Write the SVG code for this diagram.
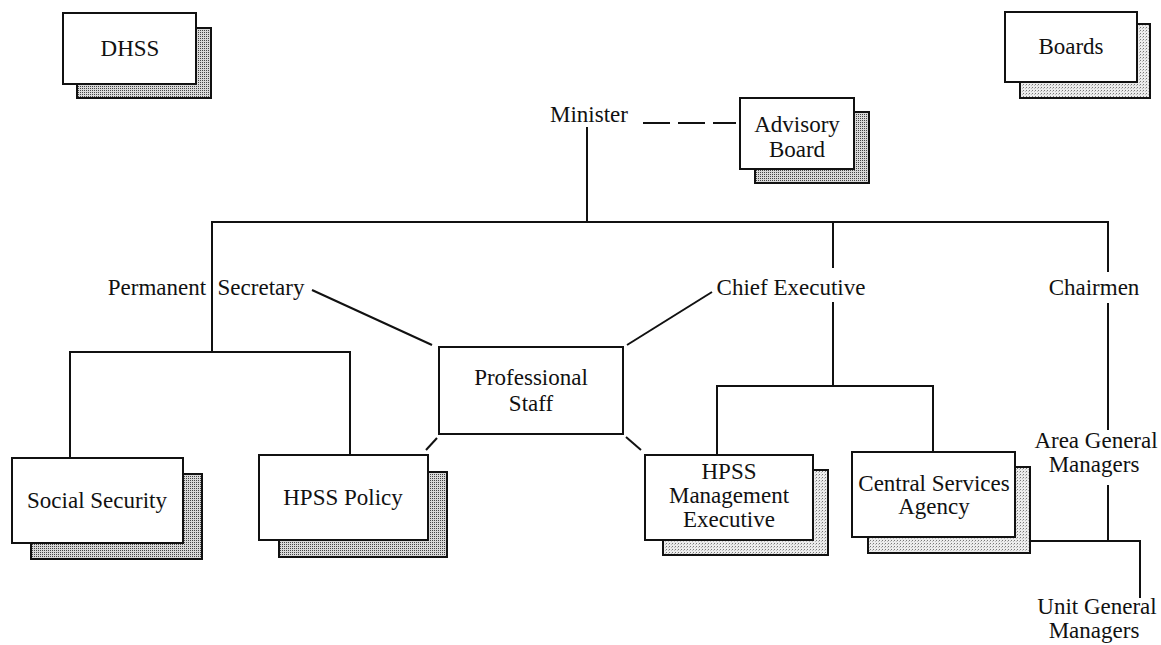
<svg xmlns="http://www.w3.org/2000/svg" width="1161" height="645" viewBox="0 0 1161 645">
  <style>
    text { font-family: "Liberation Serif", "Times New Roman", serif; font-size: 23px; fill: #111; text-anchor: middle; }
    .box { fill: #fff; stroke: #111; stroke-width: 2; }
    .shadow { fill: url(#dots); stroke: #111; stroke-width: 2; }
    .shadow-light { fill: url(#dots-light); stroke: #111; stroke-width: 2; }
    .line { fill: none; stroke: #111; stroke-width: 2; }
    .dash { fill: none; stroke: #111; stroke-width: 2; stroke-dasharray: 27 8; }
  </style>
  <defs>
    <!-- stippled fill for the stacked "shadow" sheets -->
    <pattern id="dots" width="2" height="2" patternUnits="userSpaceOnUse">
      <rect width="2" height="2" fill="#d8d8d8"/>
      <rect width="1" height="1" fill="#444"/>
    </pattern>
    <pattern id="dots-light" width="3" height="3" patternUnits="userSpaceOnUse">
      <rect width="3" height="3" fill="#ececec"/>
      <rect width="1" height="1" fill="#777"/>
      <rect x="2" y="1" width="1" height="1" fill="#bbb"/>
    </pattern>
  </defs>
  <rect width="1161" height="645" fill="#fff"/>

  <!-- connectors -->
  <g id="connectors">
    <path class="dash" d="M643 123 H736"/>
    <path class="line" d="M587 127 V222"/>
    <path class="line" d="M212 352 V222 H1108 V272"/>
    <path class="line" d="M1108 303 V430"/>
    <path class="line" d="M1108 485 V541"/>
    <path class="line" d="M1030 541 H1140 V598"/>
    <path class="line" d="M70 458 V352 H350 V455"/>
    <path class="line" d="M833 222 V268"/>
    <path class="line" d="M833 302 V386"/>
    <path class="line" d="M717 455 V386 H933 V452"/>
    <path class="line" d="M312 290 L432 345"/>
    <path class="line" d="M627 345 L712 292"/>
    <path class="line" d="M437 438 L426 450"/>
    <path class="line" d="M626 437 L641 450"/>
  </g>

  <!-- labels on the connectors -->
  <g id="labels">
    <text x="589" y="122">Minister</text>
    <text x="157" y="295">Permanent</text>
    <text x="261" y="295">Secretary</text>
    <text x="791" y="295">Chief Executive</text>
    <text x="1094" y="295">Chairmen</text>
    <text x="1096" y="448">Area General</text>
    <text x="1094" y="472">Managers</text>
    <text x="1097" y="614">Unit General</text>
    <text x="1094" y="638">Managers</text>
  </g>

  <g id="dhss">
    <rect class="shadow" x="77" y="28" width="134" height="70"/>
    <rect class="box" x="63" y="13" width="133" height="71"/>
    <text x="130" y="56">DHSS</text>
  </g>

  <g id="boards">
    <rect class="shadow-light" x="1020" y="24" width="130" height="74"/>
    <rect class="box" x="1005" y="12" width="132" height="70"/>
    <text x="1071" y="54">Boards</text>
  </g>

  <g id="advisory-board">
    <rect class="shadow" x="755" y="112" width="114" height="71"/>
    <rect class="box" x="740" y="98" width="114" height="71"/>
    <text x="797" y="132">Advisory</text>
    <text x="797" y="157">Board</text>
  </g>

  <g id="professional-staff">
    <rect class="box" x="439" y="347" width="184" height="87"/>
    <text x="531" y="385">Professional</text>
    <text x="531" y="411">Staff</text>
  </g>

  <g id="social-security">
    <rect class="shadow" x="31" y="474" width="171" height="85"/>
    <rect class="box" x="12" y="458" width="171" height="85"/>
    <text x="97" y="508">Social Security</text>
  </g>

  <g id="hpss-policy">
    <rect class="shadow" x="279" y="472" width="168" height="85"/>
    <rect class="box" x="259" y="455" width="169" height="85"/>
    <text x="343" y="505">HPSS Policy</text>
  </g>

  <g id="hpss-management-executive">
    <rect class="shadow-light" x="663" y="470" width="165" height="85"/>
    <rect class="box" x="645" y="455" width="168" height="85"/>
    <text x="729" y="479">HPSS</text>
    <text x="729" y="503">Management</text>
    <text x="729" y="527">Executive</text>
  </g>

  <g id="central-services-agency">
    <rect class="shadow-light" x="868" y="467" width="162" height="86"/>
    <rect class="box" x="852" y="452" width="163" height="85"/>
    <text x="934" y="491">Central Services</text>
    <text x="934" y="514">Agency</text>
  </g>
</svg>
